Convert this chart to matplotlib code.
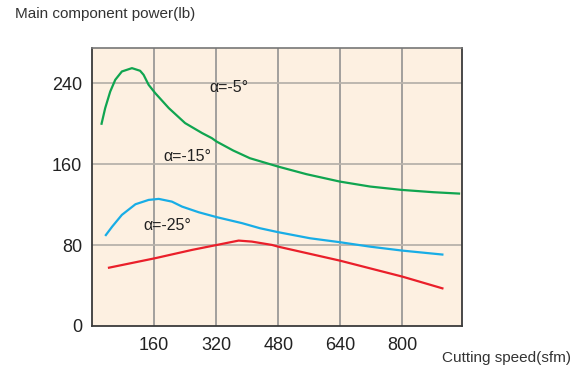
import matplotlib.pyplot as plt

# alpha = -5 deg (green)
green_x = [24, 34, 47, 60, 77, 103, 124, 133, 146, 163, 198, 240, 284, 309, 321,
           364, 407, 480, 553, 639, 717, 798, 880, 949]
green_y = [198.8, 215.3, 231.7, 243.3, 251.5, 254.8, 252.2, 248.2, 238.3, 230.1, 215.3,
           200.5, 190.6, 185.6, 182.3, 173.4, 165.8, 157.5, 150, 142.7, 137.8, 134.5,
           132.2, 130.8]

# alpha = -15 deg (blue)
blue_x = [34, 52, 77, 112, 146, 172, 206, 232, 275, 322, 387, 433, 480, 562, 639,
          717, 800, 906]
blue_y = [89, 98.2, 109.8, 120.3, 124.6, 125.6, 122.9, 118, 112.4, 107.5, 101.6, 96.6,
          92.7, 86.7, 82.8, 78.4, 74.5, 70.5]

# alpha = -25 deg (red)
red_x = [41, 163, 258, 322, 378, 412, 464, 480, 639, 800, 906]
red_y = [57.4, 67, 75.2, 80.1, 84.4, 83.4, 80.1, 78.4, 64.6, 48.8, 36.9]

x_ticks = [160, 320, 480, 640, 800]
y_ticks = [0, 80, 160, 240]

plt.rcParams['font.family'] = ['Liberation Sans', 'DejaVu Sans']

fig = plt.figure(figsize=(5.88, 3.72), dpi=100)
ax = fig.add_axes([92 / 588, 1 - 326 / 372, (461.7 - 92) / 588, (326 - 47.7) / 372])
ax.set_facecolor('#fdf0e1')

for xs, ys, c in [(green_x, green_y, '#10a550'),
                  (blue_x, blue_y, '#18ade6'),
                  (red_x, red_y, '#ea1f2a')]:
    ax.plot(xs, ys, color=c, lw=1.6, solid_joinstyle='round', solid_capstyle='butt')

ax.set_xlim(0, 953)
ax.set_ylim(0, 275)
ax.set_xticks(x_ticks)
ax.set_yticks(y_ticks)
ax.tick_params(length=0, labelsize=13, colors='#222222')
ax.tick_params(axis='x', pad=8)
ax.tick_params(axis='y', pad=7)

for x in x_ticks:
    ax.axvline(x, color='#8a8a8a', lw=1.1, zorder=0)
for y in y_ticks[1:]:
    ax.axhline(y, color='#b8b2ab', lw=1.3, zorder=0)

for s in ['left', 'bottom', 'right']:
    ax.spines[s].set_color('#3a3a3a')
    ax.spines[s].set_linewidth(1.3)
ax.spines['top'].set_color('#777777')
ax.spines['top'].set_linewidth(1.2)

ax.text(353, 235.5, 'α=-5°', fontsize=11.5, ha='center', va='center', color='#222222')
ax.text(247, 167, 'α=-15°', fontsize=11.5, ha='center', va='center', color='#222222')
ax.text(193, 99, 'α=-25°', fontsize=11.5, ha='center', va='center', color='#222222')

fig.text(15 / 588, 1 - 14 / 372, 'Main component power(lb)', fontsize=11,
         family=['Liberation Sans Narrow', 'Liberation Sans'], color='#333333', va='center')
fig.text(442 / 588, 1 - 358 / 372, 'Cutting speed(sfm)', fontsize=11,
         family=['Liberation Sans Narrow', 'Liberation Sans'], color='#333333', va='center')

fig.savefig('out.png', dpi=100)
